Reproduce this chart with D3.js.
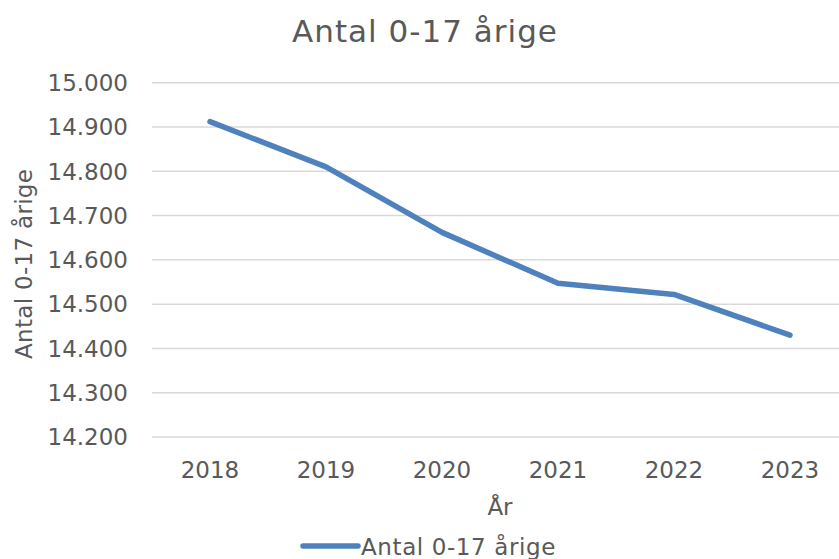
<!DOCTYPE html>
<html>
<head>
<meta charset="utf-8">
<script src="https://cdn.jsdelivr.net/npm/d3@7"></script>
<style>
  body { margin: 0; background: #fff; }
  text { font-family: Verdana, "DejaVu Sans", sans-serif; fill: #595959; }
</style>
</head>
<body>
<svg id="chart" width="839" height="559"></svg>
<script>
// data
const years = ['2018', '2019', '2020', '2021', '2022', '2023'];
const antal = [14912, 14810, 14662, 14547, 14522, 14430];
const yTicks = [14200, 14300, 14400, 14500, 14600, 14700, 14800, 14900, 15000];

const chartTitle = 'Antal 0-17 årige';
const xTitle = 'År';
const yTitle = 'Antal 0-17 årige';
const seriesName = 'Antal 0-17 årige';

const W = 839;
const plot = { left: 152, right: 848, top: 82.7, bottom: 437 };
const blue = '#4f81bd';

const svg = d3.select('#chart');

const x = d3.scaleBand()
  .domain(years)
  .range([plot.left, plot.right]);

const y = d3.scaleLinear()
  .domain([14200, 15000])
  .range([plot.bottom, plot.top]);

const fmt = (v) => d3.format(',.0f')(v).replace(/,/g, '.');

// gridlines
svg.append('g')
  .selectAll('line')
  .data(yTicks)
  .join('line')
  .attr('x1', plot.left)
  .attr('x2', W)
  .attr('y1', (d) => y(d))
  .attr('y2', (d) => y(d))
  .attr('stroke', '#d9d9d9')
  .attr('stroke-width', 1.5);

// y tick labels
svg.append('g')
  .selectAll('text')
  .data(yTicks)
  .join('text')
  .attr('x', 128)
  .attr('y', (d) => y(d))
  .attr('dy', '0.36em')
  .attr('text-anchor', 'end')
  .style('font-size', '23px')
  .text(fmt);

// x tick labels
svg.append('g')
  .selectAll('text')
  .data(years)
  .join('text')
  .attr('x', (d) => x(d) + x.bandwidth() / 2)
  .attr('y', 478)
  .attr('text-anchor', 'middle')
  .style('font-size', '23px')
  .text((d) => d);

// line
const line = d3.line()
  .x((d, i) => x(years[i]) + x.bandwidth() / 2)
  .y((d) => y(d));

svg.append('path')
  .datum(antal)
  .attr('d', line)
  .attr('fill', 'none')
  .attr('stroke', blue)
  .attr('stroke-width', 5.5)
  .attr('stroke-linecap', 'round')
  .attr('stroke-linejoin', 'round');

// titles
svg.append('text')
  .attr('x', 425)
  .attr('y', 42)
  .attr('text-anchor', 'middle')
  .style('font-size', '31px')
  .style('letter-spacing', '1px')
  .text(chartTitle);

svg.append('text')
  .attr('x', (plot.left + plot.right) / 2)
  .attr('y', 515)
  .attr('text-anchor', 'middle')
  .style('font-size', '23px')
  .text(xTitle);

svg.append('text')
  .attr('transform', `translate(31.5,${(plot.top + plot.bottom) / 2 + 4}) rotate(-90)`)
  .attr('text-anchor', 'middle')
  .style('font-size', '23px')
  .style('letter-spacing', '0.3px')
  .text(yTitle);

// legend
const legend = svg.append('g');
legend.append('line')
  .attr('x1', 303)
  .attr('x2', 358)
  .attr('y1', 546)
  .attr('y2', 546)
  .attr('stroke', blue)
  .attr('stroke-width', 5.5)
  .attr('stroke-linecap', 'round');
legend.append('text')
  .attr('x', 361)
  .attr('y', 555)
  .style('font-size', '23px')
  .style('letter-spacing', '0.6px')
  .text(seriesName);
</script>
</body>
</html>
